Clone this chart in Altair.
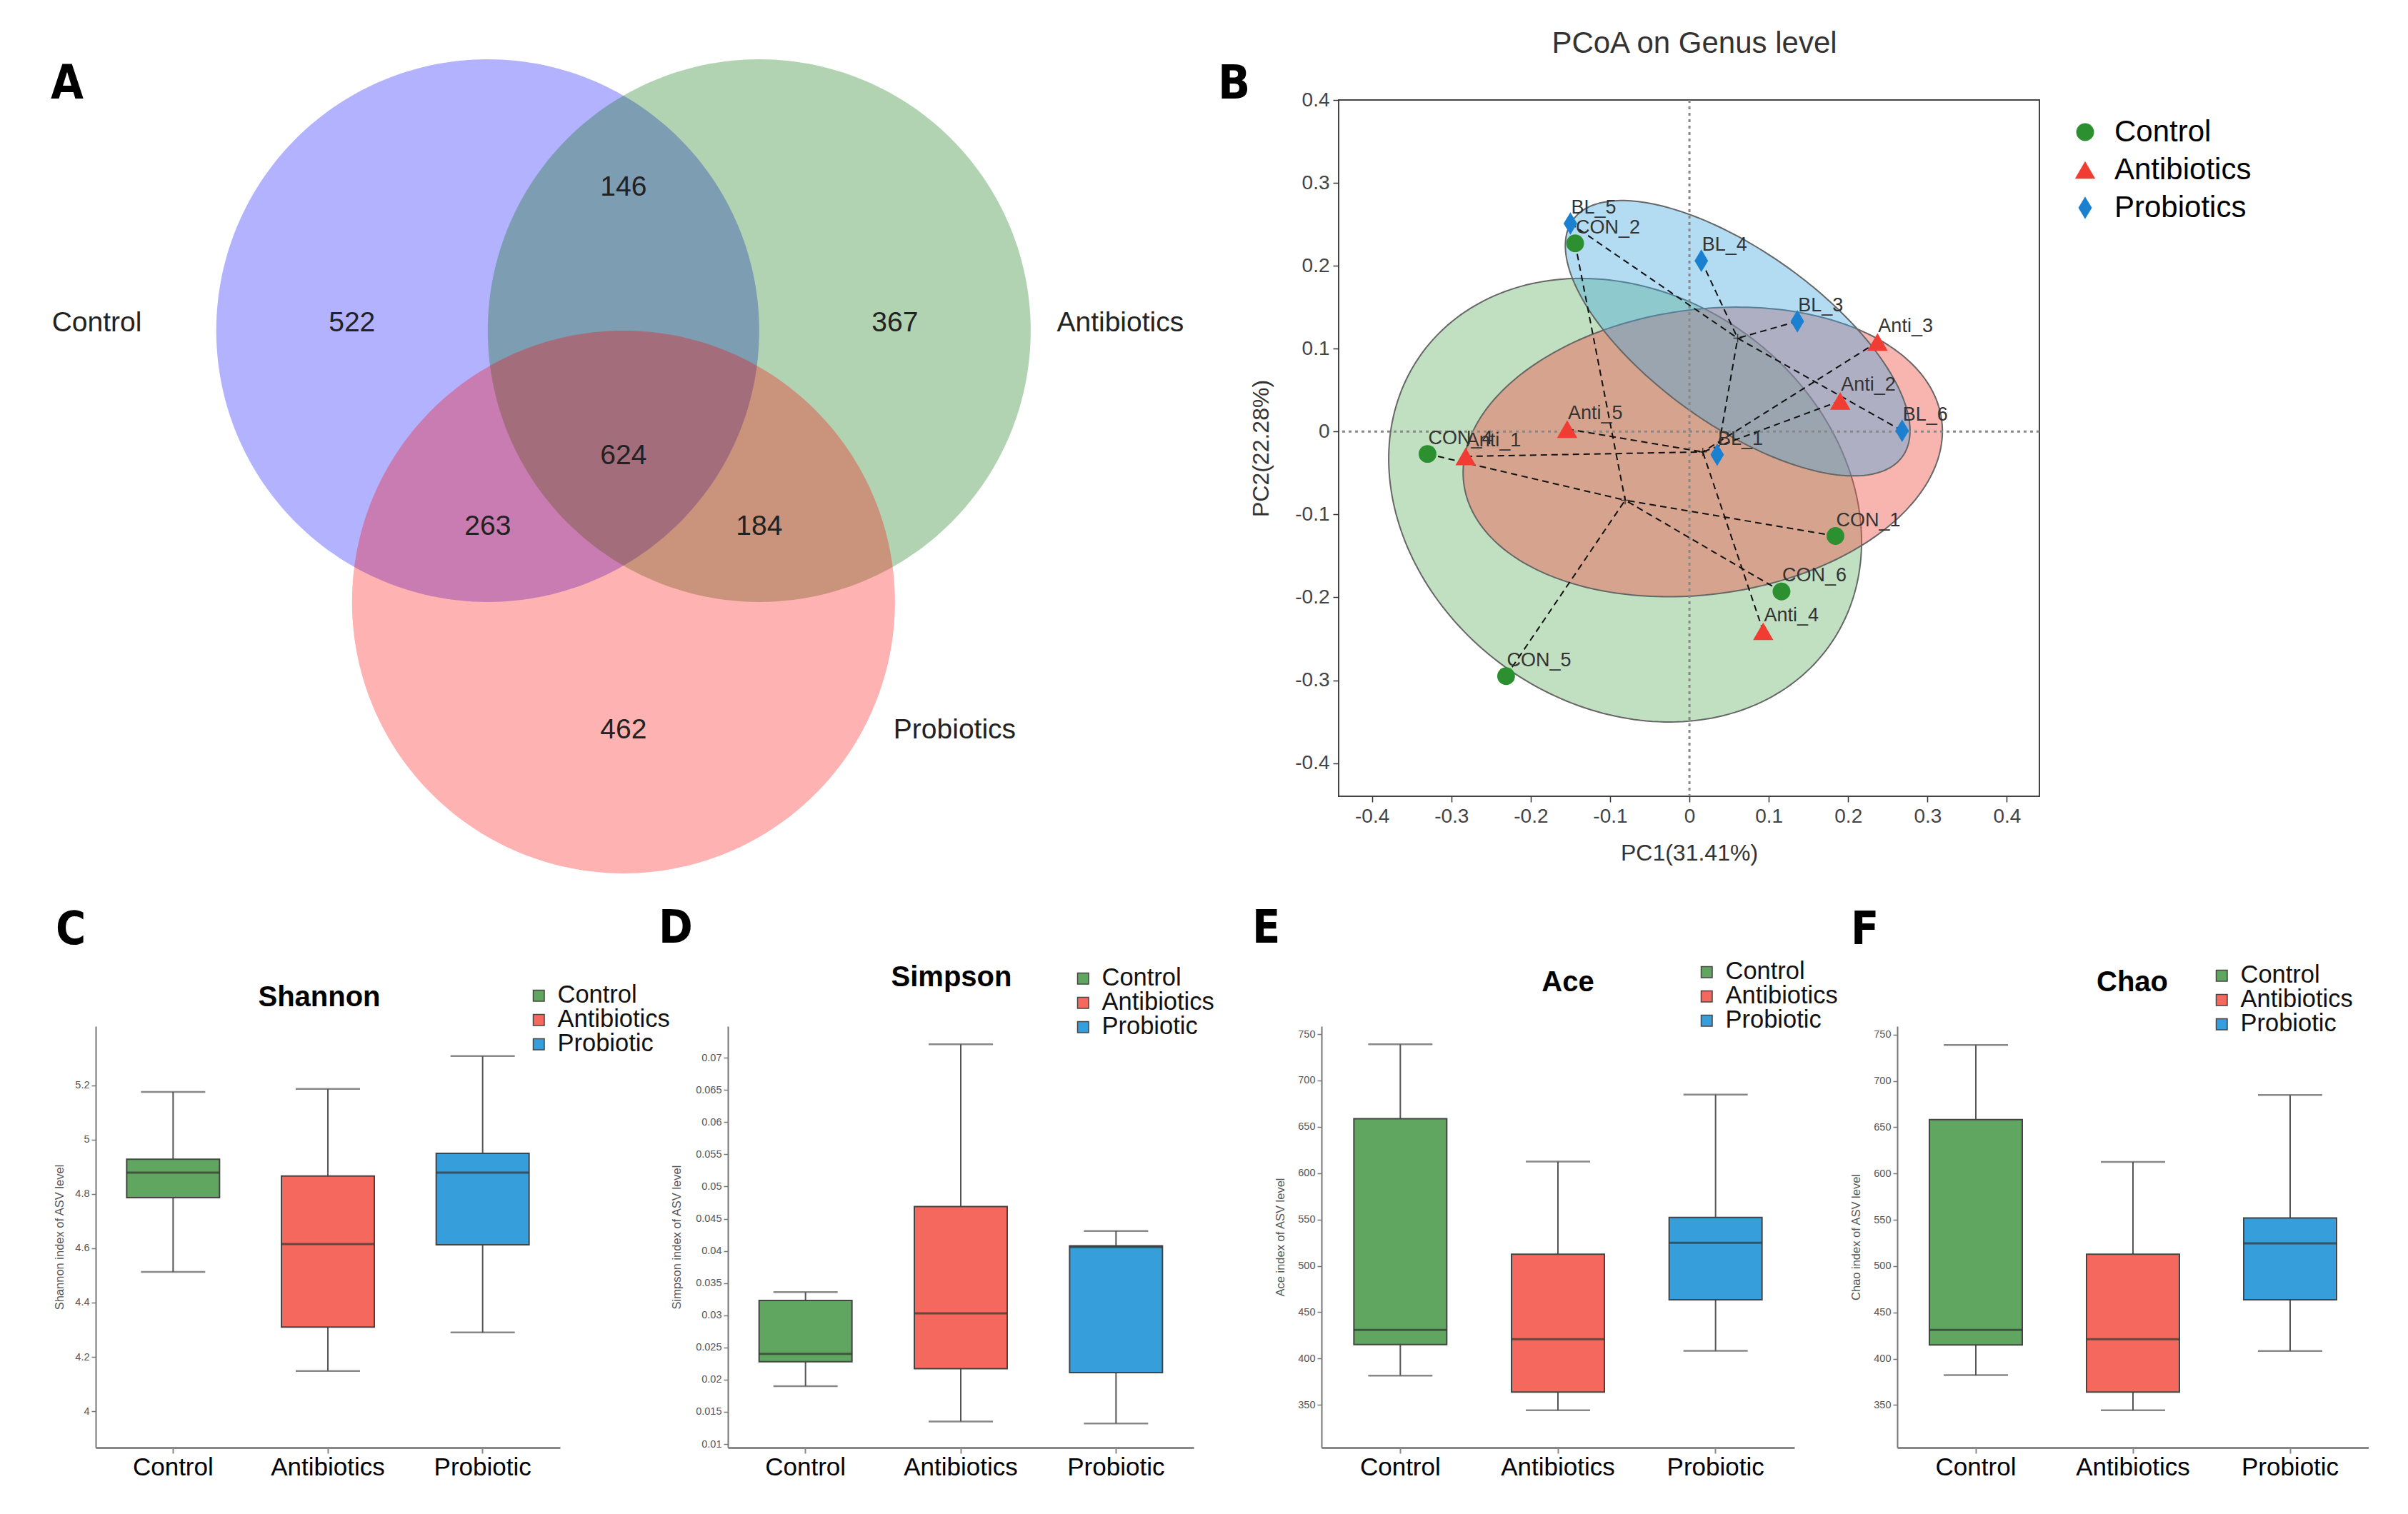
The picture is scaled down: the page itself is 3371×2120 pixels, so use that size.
import altair as alt
import numpy as np
import pandas as pd

FONT = "Liberation Sans, Arial, Helvetica, sans-serif"
FONT_N = "Liberation Sans Narrow, DejaVu Sans Condensed, Liberation Sans, sans-serif"

# ------------------------------------------------------------------ A: Venn
venn_sets = ["Control", "Antibiotics", "Probiotics"]
venn_cx = [-0.5, 0.5, 0.0]
venn_cy = [0.0, 0.0, -1.0]
venn_r = [1.0, 1.0, 1.0]
venn_colors = ["#0000FF", "#006E00", "#FF0000"]
venn_counts = ["522", "146", "367", "624", "263", "184", "462"]
venn_count_x = [-1.0, 0.0, 1.0, 0.0, -0.5, 0.5, 0.0]
venn_count_y = [0.03, 0.53, 0.03, -0.46, -0.72, -0.72, -1.47]
venn_label_x = [-1.94, 1.83, 1.22]
venn_label_y = [0.03, 0.03, -1.47]

# ------------------------------------------------------------------ B: PCoA
pcoa_groups = ["Control", "Antibiotics", "Probiotics"]
pcoa_colors = ["#2D9030", "#F03C32", "#1B80D0"]
pcoa_shapes = ["circle", "triangle-up", "M0,-1L0.6,0L0,1L-0.6,0Z"]
pcoa_sizes = [620, 1000, 1700]
pcoa_samples = ["CON_1", "CON_2", "CON_4", "CON_5", "CON_6",
                "Anti_1", "Anti_2", "Anti_3", "Anti_4", "Anti_5",
                "BL_1", "BL_3", "BL_4", "BL_5", "BL_6"]
pcoa_sample_group = ["Control"] * 5 + ["Antibiotics"] * 5 + ["Probiotics"] * 5
pcoa_pc1 = [0.184, -0.144, -0.330, -0.231, 0.116,
            -0.282, 0.190, 0.237, 0.093, -0.154,
            0.035, 0.136, 0.015, -0.150, 0.268]
pcoa_pc2 = [-0.126, 0.227, -0.027, -0.295, -0.193,
            -0.030, 0.037, 0.108, -0.241, 0.003,
            -0.028, 0.133, 0.206, 0.251, 0.001]
ellipse_a = [0.312, 0.3035, 0.252]
ellipse_b = [0.251, 0.172, 0.106]
ellipse_angle = [-30.0, 7.0, -34.0]
ellipse_fill = ["#4CA64C", "#F05A50", "#40A8E0"]
ellipse_opacity = [0.35, 0.45, 0.40]
pc_ticks = [-0.4, -0.3, -0.2, -0.1, 0, 0.1, 0.2, 0.3, 0.4]

# ------------------------------------------------------------------ C-F: boxplots
box_groups = ["Control", "Antibiotics", "Probiotic"]
box_colors = ["#60A660", "#F4685E", "#369EDA"]

shannon_lo = [4.513, 4.148, 4.290]
shannon_q1 = [4.787, 4.310, 4.613]
shannon_med = [4.879, 4.616, 4.879]
shannon_q3 = [4.928, 4.866, 4.950]
shannon_hi = [5.176, 5.187, 5.308]
shannon_ticks = [4, 4.2, 4.4, 4.6, 4.8, 5, 5.2]

simpson_lo = [0.0190, 0.0135, 0.0132]
simpson_q1 = [0.0228, 0.0217, 0.0211]
simpson_med = [0.0240, 0.0303, 0.0406]
simpson_q3 = [0.0323, 0.0469, 0.0408]
simpson_hi = [0.0336, 0.0721, 0.0431]
simpson_ticks = [0.01, 0.015, 0.02, 0.025, 0.03, 0.035, 0.04, 0.045,
                 0.05, 0.055, 0.06, 0.065, 0.07]

ace_lo = [381.7, 344.3, 408.3]
ace_q1 = [415.2, 363.9, 463.5]
ace_med = [430.9, 420.9, 524.8]
ace_q3 = [658.7, 512.6, 552.2]
ace_hi = [739.0, 612.6, 684.8]

chao_lo = [382.2, 344.3, 408.3]
chao_q1 = [414.9, 363.9, 463.6]
chao_med = [431.0, 421.0, 524.6]
chao_q3 = [658.2, 512.8, 552.0]
chao_hi = [738.7, 612.5, 684.7]
rich_ticks = [350, 400, 450, 500, 550, 600, 650, 700, 750]


def one(**kw):
    return pd.DataFrame({k: [v] for k, v in kw.items()})


def anchor(x, y1, y2):
    return alt.Chart(one(a=0)).mark_rect(opacity=0).encode(
        x=alt.value(x), x2=alt.value(x + 1), y=alt.value(y1), y2=alt.value(y2))


def letter(txt, x, y, size=66):
    return alt.Chart(one(t=txt)).mark_text(
        font=FONT_N, fontSize=size, fontWeight="bold", align="left",
        baseline="alphabetic", color="#000").encode(
        x=alt.value(x), y=alt.value(y), text="t:N")


# ================================================================== Venn chart
theta = np.linspace(0, 2 * np.pi, 241)
rows = []
for s, cx, cy, r in zip(venn_sets, venn_cx, venn_cy, venn_r):
    for i, tt in enumerate(theta):
        rows.append({"name": s, "i": i, "x": cx + r * np.cos(tt), "y": cy + r * np.sin(tt)})
venn_df = pd.DataFrame(rows)

vx = alt.X("x:Q", scale=alt.Scale(domain=[-1.944, 2.266], nice=False, zero=False), axis=None)
vy = alt.Y("y:Q", scale=alt.Scale(domain=[-1.716, 0.85], nice=False, zero=False), axis=None)

venn_layers = []
for s, col in zip(venn_sets, venn_colors):
    venn_layers.append(
        alt.Chart(venn_df).transform_filter(alt.datum.name == s)
        .mark_line(fill=col, fillOpacity=0.3, strokeOpacity=0, strokeWidth=0)
        .encode(x=vx, y=vy, order=alt.Order("i:Q"))
    )

cnt_df = pd.DataFrame({"label": venn_counts, "x": venn_count_x, "y": venn_count_y})
lab_df = pd.DataFrame({"label": venn_sets, "x": venn_label_x, "y": venn_label_y})
venn_nums = alt.Chart(cnt_df).mark_text(font=FONT, fontSize=39, color="#222").encode(
    x=vx, y=vy, text="label:N")
venn_labs = alt.Chart(lab_df).mark_text(font=FONT, fontSize=39, color="#222").encode(
    x=vx, y=vy, text="label:N")

venn = alt.layer(*venn_layers, venn_nums, venn_labs,
                 letter("A", -63, -2), anchor(-126, -132, 1100)
                 ).properties(width=1600, height=975)

# ================================================================== PCoA chart
pc = pd.DataFrame({"sample": pcoa_samples, "group": pcoa_sample_group,
                   "x": pcoa_pc1, "y": pcoa_pc2})
cent = pc.groupby("group")[["x", "y"]].mean()
pc["cx"] = pc["group"].map(cent["x"])
pc["cy"] = pc["group"].map(cent["y"])
cent_df = cent.reset_index()

erows = []
for g, a, b, ang in zip(pcoa_groups, ellipse_a, ellipse_b, ellipse_angle):
    cx, cy = cent.loc[g, "x"], cent.loc[g, "y"]
    th = np.deg2rad(ang)
    for i, tt in enumerate(theta):
        erows.append({"name": g, "i": i,
                      "x": cx + a * np.cos(tt) * np.cos(th) - b * np.sin(tt) * np.sin(th),
                      "y": cy + a * np.cos(tt) * np.sin(th) + b * np.sin(tt) * np.cos(th)})
ell_df = pd.DataFrame(erows)

bx_axis = alt.Axis(values=pc_ticks, labelExpr="toString(datum.value)", title="PC1(31.41%)",
                   grid=False, domain=False, tickColor="#333", tickSize=8, tickWidth=1.5,
                   labelFont=FONT, labelFontSize=28, labelColor="#444", labelPadding=6,
                   titleFont=FONT, titleFontSize=32, titleFontWeight="normal",
                   titleColor="#333", titlePadding=22)
by_axis = alt.Axis(values=pc_ticks, labelExpr="toString(datum.value)", title="PC2(22.28%)",
                   grid=False, domain=False, tickColor="#333", tickSize=8, tickWidth=1.5,
                   labelFont=FONT, labelFontSize=28, labelColor="#444", labelPadding=5,
                   titleFont=FONT, titleFontSize=32, titleFontWeight="normal",
                   titleColor="#333", titlePadding=30)
bx = alt.X("x:Q", scale=alt.Scale(domain=[-0.442, 0.441], nice=False, zero=False), axis=bx_axis)
by = alt.Y("y:Q", scale=alt.Scale(domain=[-0.44, 0.4], nice=False, zero=False), axis=by_axis)

b_layers = []
for g, col, op in zip(pcoa_groups, ellipse_fill, ellipse_opacity):
    b_layers.append(
        alt.Chart(ell_df).transform_filter(alt.datum.name == g)
        .mark_line(fill=col, fillOpacity=op, stroke="#666", strokeWidth=2)
        .encode(x=bx, y=by, order=alt.Order("i:Q"))
    )

zero_df = one(x=0.0, y=0.0)
hline = alt.Chart(zero_df).mark_rule(color="#888", strokeWidth=3, strokeDash=[4, 5]).encode(y=by)
vline = alt.Chart(zero_df).mark_rule(color="#888", strokeWidth=3, strokeDash=[4, 5]).encode(x=bx)

segs = alt.Chart(pc).mark_rule(color="#111", strokeWidth=2, strokeDash=[9, 6]).encode(
    x=bx, y=by, x2="cx:Q", y2="cy:Q")
crosses = alt.Chart(cent_df).mark_point(shape="M-1,0L1,0M0,-1L0,1", size=140, filled=False,
                                        color="#111", strokeWidth=1.5).encode(x=bx, y=by)

leg_b = alt.Legend(orient="none", legendX=1024, legendY=24, title=None,
                   labelFont=FONT, labelFontSize=42, labelColor="#000", labelLimit=0,
                   symbolStrokeWidth=0, rowPadding=11,
                   labelOffset=20, padding=0)
pts = alt.Chart(pc).mark_point(filled=True, opacity=1).encode(
    x=bx, y=by,
    color=alt.Color("group:N", scale=alt.Scale(domain=pcoa_groups, range=pcoa_colors), legend=leg_b),
    shape=alt.Shape("group:N", scale=alt.Scale(domain=pcoa_groups, range=pcoa_shapes), legend=leg_b),
    size=alt.Size("group:N", scale=alt.Scale(domain=pcoa_groups, range=pcoa_sizes), legend=leg_b),
)
labels = alt.Chart(pc).mark_text(font=FONT, fontSize=27, color="#333", align="left",
                                 baseline="middle", dx=1, dy=-22).encode(x=bx, y=by, text="sample:N")
b_title = alt.Chart(one(t="PCoA on Genus level")).mark_text(
    font=FONT, fontSize=42, color="#333", align="center", baseline="alphabetic").encode(
    x=alt.value(498), y=alt.value(-66), text="t:N")

pcoa = alt.layer(*b_layers, hline, vline, segs, crosses, pts, labels, b_title,
                 letter("B", -169, -2)).properties(
    width=981, height=975, view=alt.ViewBackground(stroke="#444", strokeWidth=2))


# ================================================================== boxplots
def box_panel(ytitle, lo, q1, med, q3, hi, ydomain, yticks, width, xrange, tpad,
              let, let_x, let_y, title, title_x, title_y, leg_x, leg_y, with_anchor=False):
    df = pd.DataFrame({"group": box_groups, "lo": lo, "q1": q1, "med": med, "q3": q3, "hi": hi})
    xe = alt.X("group:N", sort=box_groups,
               scale=alt.Scale(domain=box_groups, range=[0, xrange], paddingInner=0, paddingOuter=0),
               axis=alt.Axis(title=None, labelAngle=0, labelFont=FONT, labelFontSize=35,
                             labelColor="#000", domainColor="#888", domainWidth=3,
                             tickColor="#888", tickWidth=2, tickSize=8, labelPadding=2, grid=False))
    yax = alt.Axis(title=ytitle, values=yticks, labelExpr="toString(datum.value)", grid=False,
                   labelFont=FONT, labelFontSize=14.5, labelColor="#555", labelPadding=3,
                   tickColor="#777", tickSize=6, tickWidth=1.5,
                   domainColor="#777", domainWidth=2,
                   titleFont=FONT, titleFontSize=16.5, titleFontWeight="normal",
                   titleColor="#555", titlePadding=tpad)
    ysc = alt.Scale(domain=ydomain, nice=False, zero=False)

    def ye(f):
        return alt.Y(f"{f}:Q", scale=ysc, axis=yax)

    base = alt.Chart(df)
    whisk = base.mark_rule(color="#555", strokeWidth=2).encode(x=xe, y=ye("lo"), y2="hi:Q")
    leg = alt.Legend(orient="none", legendX=leg_x - 13, legendY=leg_y - 4, title=None,
                     symbolType="square", symbolSize=240, symbolStrokeColor="#444",
                     symbolStrokeWidth=1.5, labelFont=FONT, labelFontSize=34.5, labelLimit=0,
                     labelColor="#111", rowPadding=-9, labelOffset=9, padding=0)
    box = base.mark_bar(size=130, stroke="#444", strokeWidth=2).encode(
        x=xe, y=ye("q1"), y2="q3:Q",
        color=alt.Color("group:N", scale=alt.Scale(domain=box_groups, range=box_colors), legend=leg))
    medt = base.mark_tick(size=130, thickness=3, color="#333").encode(x=xe, y=ye("med"))
    cap_lo = base.mark_tick(size=90, thickness=2.5, color="#555").encode(x=xe, y=ye("lo"))
    cap_hi = base.mark_tick(size=90, thickness=2.5, color="#555").encode(x=xe, y=ye("hi"))
    ttl = alt.Chart(one(t=title)).mark_text(
        font=FONT, fontSize=40, fontWeight="bold", color="#000", align="center",
        baseline="alphabetic").encode(x=alt.value(title_x), y=alt.value(title_y), text="t:N")
    layers = [whisk, box, medt, cap_lo, cap_hi, ttl, letter(let, let_x, let_y, 64)]
    if with_anchor:
        layers.append(anchor(-126, -190, -189))
    return alt.layer(*layers).properties(width=width, height=590)


panel_c = box_panel("Shannon index of ASV level", shannon_lo, shannon_q1, shannon_med,
                    shannon_q3, shannon_hi, [3.866, 5.418], shannon_ticks, 741, 650, 13,
                    "C", -56, -115, "Shannon", 313, -28, 616, -56, with_anchor=True)
panel_d = box_panel("Simpson index of ASV level", simpson_lo, simpson_q1, simpson_med,
                    simpson_q3, simpson_hi, [0.00945, 0.0749], simpson_ticks, 687, 652, 18,
                    "D", -97, -117, "Simpson", 313, -56, 493, -80)
panel_e = box_panel("Ace index of ASV level", ace_lo, ace_q1, ace_med, ace_q3, ace_hi,
                    [304, 758.5], rich_ticks, 662, 662, 16,
                    "E", -97, -117, "Ace", 345, -49, 535, -89)
panel_f = box_panel("Chao index of ASV level", chao_lo, chao_q1, chao_med, chao_q3, chao_hi,
                    [304, 759], rich_ticks, 660, 660, 16,
                    "F", -65, -115, "Chao", 329, -49, 450, -84)

indep = dict(color="independent", shape="independent", size="independent")

top = alt.hconcat(venn, pcoa, spacing=140, bounds="flush").resolve_scale(**indep)
bottom = alt.hconcat(panel_c, panel_d, panel_e, panel_f, spacing=144,
                     bounds="flush").resolve_scale(**indep)

chart = alt.vconcat(top, bottom, spacing=7).resolve_scale(**indep).properties(
    padding=0).configure_view(stroke=None).configure_axis(grid=False)

chart.save("out.html", embed_options={"renderer": "svg", "actions": False})
